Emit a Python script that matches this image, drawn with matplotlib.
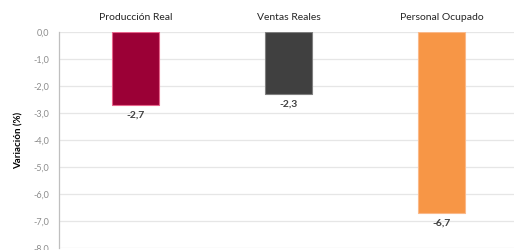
import matplotlib
matplotlib.use("Agg")
import matplotlib.pyplot as plt
import numpy as np

plt.rcParams['font.family'] = ['Lato', 'DejaVu Sans']

# Data
categories = ['Producción Real', 'Ventas Reales', 'Personal Ocupado']
values = [-2.7, -2.3, -6.7]
bar_colors = ['#9B0036', '#404040', '#F79646']
edge_colors = ['#E8648C', '#7F7F7F', '#FAB98A']
y_ticks = [0, -1, -2, -3, -4, -5, -6, -7, -8]

fig = plt.figure(figsize=(5.14, 2.5), dpi=100)
ax = fig.add_axes([0.115, 0.008, 0.893, 0.864])

x = np.arange(len(categories))
ax.bar(x, values, width=0.31, color=bar_colors, edgecolor=edge_colors, linewidth=0.8, zorder=3)

# Value labels below each bar
for xi, v in zip(x, values):
    ax.text(xi, v - 0.22, f'{v:.1f}'.replace('.', ','), ha='center', va='top',
            fontsize=7.5, fontweight='bold', color='#404040')

ax.set_ylim(-8, 0)
ax.set_xlim(-0.5, 2.5)
ax.set_yticks(y_ticks)
ax.set_yticklabels([f'{t:.1f}'.replace('.', ',') for t in y_ticks], fontsize=6.5, color='#8C8C8C')
ax.tick_params(axis='y', length=0, pad=7)

# Category names on top
ax.xaxis.tick_top()
ax.set_xticks(x)
ax.set_xticklabels(categories, fontsize=7.5, color='#262626')
ax.tick_params(axis='x', length=0, pad=7)

ax.set_ylabel('Variación (%)', fontsize=7, fontweight='bold', color='#000000', labelpad=7)

ax.grid(axis='y', color='#E6E6E6', linewidth=0.9, zorder=0)
for side in ['top', 'right', 'bottom']:
    ax.spines[side].set_visible(False)
ax.spines['left'].set_color('#BFBFBF')
ax.spines['left'].set_linewidth(0.9)

fig.savefig('out.png', dpi=100)
